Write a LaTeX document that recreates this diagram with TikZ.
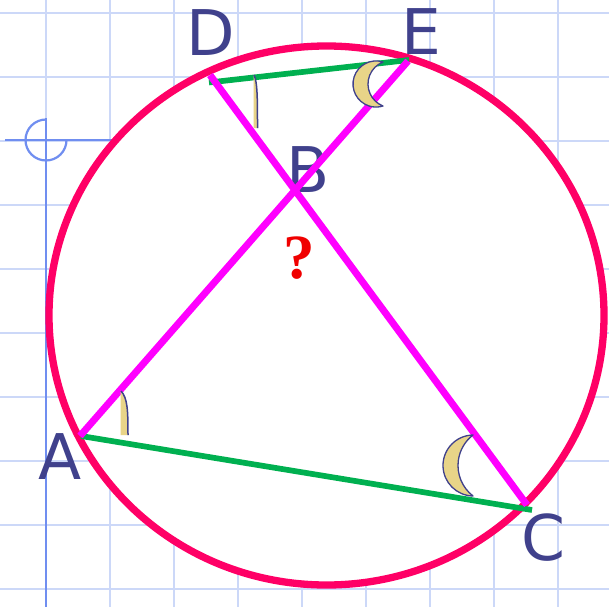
\documentclass[tikz,border=0pt]{standalone}
\usepackage{fontspec}
\newfontfamily\lblfont{DejaVu Sans}
\newfontfamily\qfont{Liberation Serif}
\definecolor{gridc}{RGB}{204,216,248}
\definecolor{axisc}{RGB}{112,142,240}
\definecolor{circc}{RGB}{255,0,102}
\definecolor{chordc}{RGB}{255,0,255}
\definecolor{greenc}{RGB}{0,176,80}
\definecolor{lblc}{RGB}{64,65,140}
\definecolor{moonc}{RGB}{232,212,136}
\definecolor{qc}{RGB}{240,0,0}
\tikzset{
  gridline/.style={gridc, line width=2pt},
  axisline/.style={axisc, line width=2.2pt},
  circline/.style={circc, line width=7.3pt, fill=white},
  chord/.style={chordc, line width=7pt},
  side/.style={greenc, line width=5.7pt},
  lbl/.style={inner sep=0pt, text=lblc, font=\lblfont\fontsize{63}{63}\selectfont},
  qm/.style={inner sep=0pt, text=qc, font=\qfont\bfseries\fontsize{63}{63}\selectfont},
  moon/.style={fill=moonc, draw=lblc, line width=1.3pt, line join=round},
  moonfill/.style={fill=moonc},
  moonline/.style={draw=lblc, line width=1.5pt},
}
\begin{document}
\begin{tikzpicture}[x=1pt,y=-1pt]
\useasboundingbox (0,0) rectangle (609,607);
\clip (0,0) rectangle (609,607);
% grid
\foreach \gx in {46,110,...,558} \draw[gridline] (\gx,0) -- (\gx,607);
\foreach \gy in {13,77,...,589} \draw[gridline] (0,\gy) -- (609,\gy);
% axis symbol
\draw[axisline] (5,140) -- (112,140);
\draw[axisline] (46,118) -- (46,607);
\draw[axisline] (46,119.5) arc[start angle=-90, end angle=-360, radius=20.5];
% circle
\draw[circline] (326.5,315.5) ellipse [x radius=277.5, y radius=269.5];
% points
\coordinate (A) at (80,436);
\coordinate (Ag) at (81,436);
\coordinate (C) at (527,505);
\coordinate (Cg) at (532,510);
\coordinate (D) at (210,75);
\coordinate (Dg) at (209,82.5);
\coordinate (E) at (408,61);
\coordinate (Eg) at (409,60);
% B label behind chords
\node[lbl] (Bl) at (308,170) {B};
% green sides
\draw[side] (Dg) -- (Eg);
\draw[side] (Ag) -- (Cg);
% chords
\draw[chord] (A) -- (E);
\draw[chord] (D) -- (C);
% labels
\node[lbl] (Dl) at (210.5,32.5) {D};
\node[lbl] (El) at (421,31.5) {E};
\node[lbl] (Al) at (60.5,456.5) {A};
\node[lbl] (Cl) at (543,538) {C};
\node[qm] (q) at (299.5,258.5) {?};
% angle marks (crescents)
\filldraw[moon] (383,62) arc[start angle=287.5, end angle=72.5, radius=23.07]
   arc[start angle=111.35, end angle=248.65, radius=23.6] -- cycle;
\filldraw[moon] (473,435) arc[start angle=269.06, end angle=90.94, radius=30.5]
   arc[start angle=127.6, end angle=232.4, radius=38.5] -- cycle;
% thin angle marks
\fill[moonfill] (253.5,75) -- (253.5,128) -- (257.5,128) .. controls (257.5,100) and (257.5,82) .. (254,75) -- cycle;
\draw[moonline] (254,75) .. controls (257.5,82) and (257.5,100) .. (257.5,128);
\fill[moonfill] (120.5,391) -- (120.5,435) -- (128,435) .. controls (128,410) and (127.5,398) .. (121,391) -- cycle;
\draw[moonline] (121,391) .. controls (127.5,398) and (128,410) .. (128,435);
\end{tikzpicture}
\end{document}
